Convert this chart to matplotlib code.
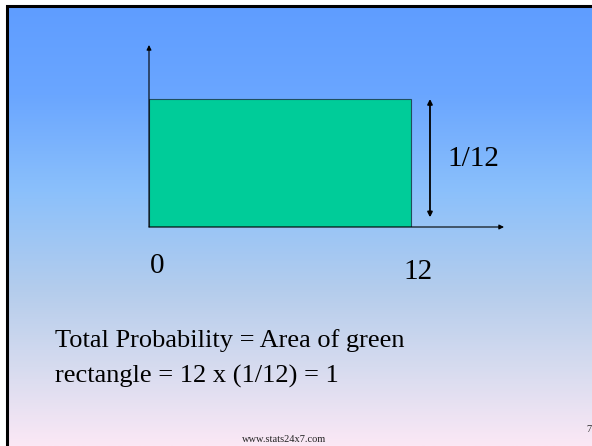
import numpy as np
import matplotlib.pyplot as plt
from matplotlib.colors import LinearSegmentedColormap

# uniform distribution on [0, 12]
x_low = 0
x_high = 12
density = 1 / 12
x_labels = ["0", "12"]
height_label = "1/12"
caption_lines = ["Total Probability = Area of green",
                 "rectangle = 12 x (1/12) = 1"]
footer = "www.stats24x7.com"
page_no = "7"

plt.rcParams['font.family'] = ['Liberation Serif', 'DejaVu Serif']

W, H = 592, 446
fig = plt.figure(figsize=(W / 100, H / 100), dpi=100)
fig.patch.set_facecolor('white')

# slide background with vertical gradient
bg = fig.add_axes([0, 0, 1, 1])
bg.set_xlim(0, W)
bg.set_ylim(H, 0)
bg.axis('off')
grad_cmap = LinearSegmentedColormap.from_list(
    'slide', [(0.0, '#5f9dff'), (0.2, '#6aa6ff'), (0.42, '#8bc0fb'),
              (0.65, '#b5cdec'), (0.82, '#d6dbef'), (1.0, '#fbe8f5')])
grad = np.linspace(0, 1, 256).reshape(-1, 1)
bg.imshow(grad, cmap=grad_cmap, aspect='auto', extent=[7, W, H, 7], zorder=0)
bg.plot([6.5, 6.5, W], [H, 6, 6], color='black', lw=2.2, zorder=1,
        solid_joinstyle='miter')

# diagram axes
ax = fig.add_axes([149 / W, (H - 227) / H, (504 - 149) / W, (227 - 45) / H])
ax.set_xlim(0, 16.26)
ax.set_ylim(0, 0.1185)
ax.axis('off')
ax.patch.set_alpha(0)

ax.bar(x_low, density, width=x_high - x_low, align='edge',
       color='#00cc99', edgecolor='#1f4f5f', linewidth=0.8, zorder=2)

# axes arrows
ax.annotate('', xy=(16.26, 0), xytext=(0, 0),
            arrowprops=dict(arrowstyle='-|>', color='black', lw=0.8,
                            mutation_scale=7, shrinkA=0, shrinkB=0))
ax.annotate('', xy=(0, 0.1185), xytext=(0, 0),
            arrowprops=dict(arrowstyle='-|>', color='black', lw=0.8,
                            mutation_scale=7, shrinkA=0, shrinkB=0))
# height marker
ax.annotate('', xy=(12.87, density), xytext=(12.87, 0.0063),
            arrowprops=dict(arrowstyle='<|-|>', color='black', lw=1.3,
                            mutation_scale=7, shrinkA=0, shrinkB=0))

ax.text(13.65, density * 0.535, height_label, fontsize=21,
        ha='left', va='center')
ax.text(x_low + 0.05, -0.0255, x_labels[0], fontsize=21, ha='left', va='center')
ax.text(x_high + 0.3, -0.0292, x_labels[1], fontsize=21, ha='center', va='center')

for i, line in enumerate(caption_lines):
    fig.text(55 / W, 1 - (347 + 36 * i) / H, line, fontsize=19,
             ha='left', va='baseline')
# footer
fig.text(284 / W, 1 - 439 / H, footer, fontsize=7.5, ha='center', va='center',
         color='#222222')
fig.text(589 / W, 1 - 429 / H, page_no, fontsize=7.5, ha='center', va='center',
         color='#333333')

fig.savefig('out.png', dpi=100)
